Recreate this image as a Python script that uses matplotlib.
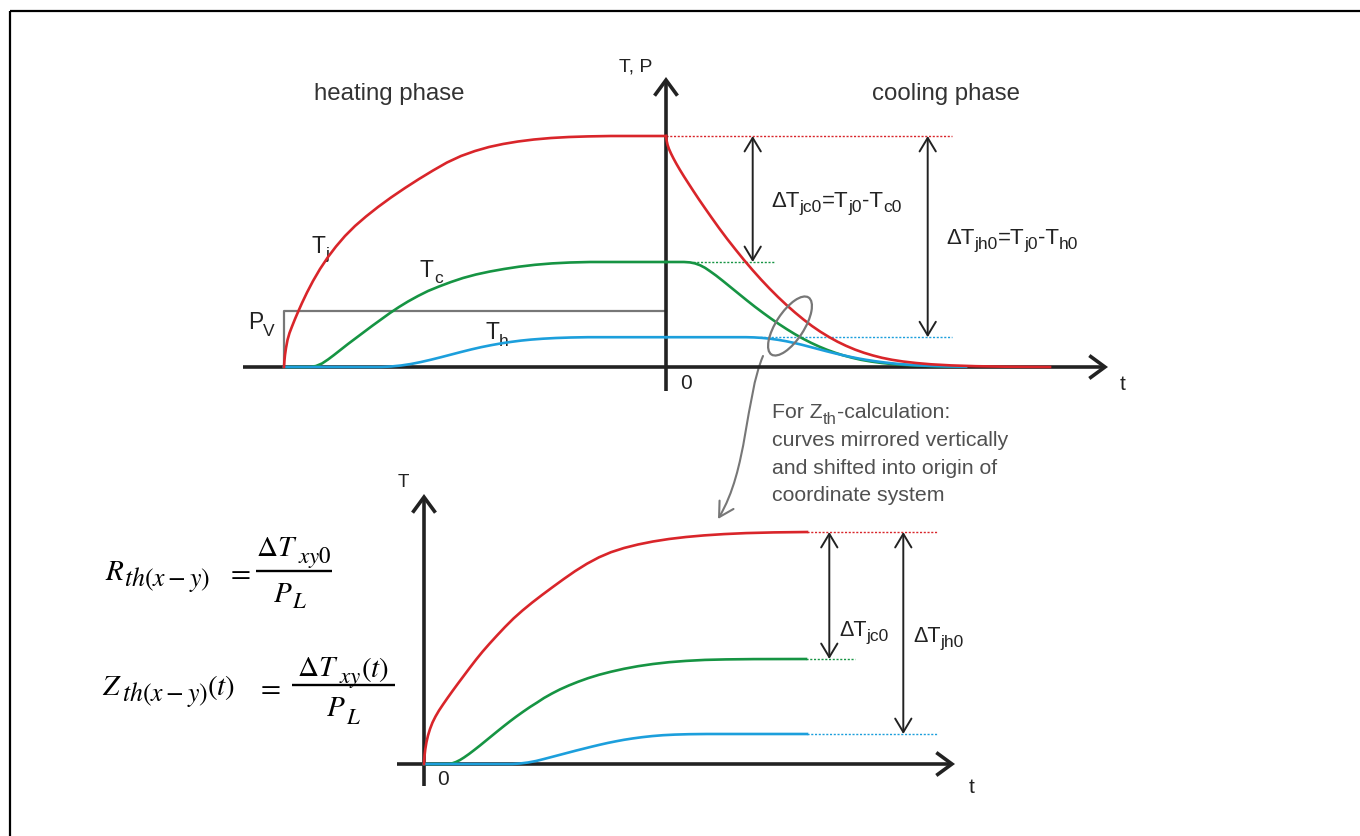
import matplotlib
matplotlib.use("Agg")
import matplotlib.pyplot as plt
from matplotlib.patches import FancyArrowPatch, Ellipse
from matplotlib.path import Path

plt.rcParams['font.family'] = ['Liberation Sans', 'DejaVu Sans']

# ---------------- data (time t, temperature T in chart units) ----------------
# top chart: heating phase (t < 0)
heat_t_j = [-382, -381.6, -381, -380, -378.5, -376.5, -374, -371, -368, -364, -359, -353, -346,
            -338, -330, -321, -311, -300, -288, -275, -261, -247, -233, -219, -205, -191, -177,
            -163, -148, -132, -115, -97, -78, -55, 0]
heat_T_j = [0, 6, 12, 19, 27, 34, 40.5, 48, 55, 64, 74.5, 86, 98,
            110, 120.5, 131, 141, 150.5, 160, 169.5, 179, 188, 196.5, 204.5, 211, 216, 220,
            223, 225.5, 227.5, 229, 230, 230.6, 231, 231]
heat_t_c = [-382, -356, -350, -344, -338, -332, -325, -318, -310, -302, -294, -285, -276, -267,
            -258, -248, -238, -227, -215, -203, -190, -176, -162, -147, -131, -114, -96, -76, 0]
heat_T_c = [0, 0, 1, 3.5, 7.5, 12, 17.5, 23, 29, 35, 41, 47.5, 54, 60,
            65.5, 71, 76, 80.5, 85, 89, 92.5, 95.5, 98, 100.3, 102.2, 103.6, 104.5, 105, 105]
heat_t_h = [-382, -285, -275, -265, -255, -245, -235, -225, -215, -205, -195, -185, -175, -165,
            -155, -145, -135, -123, -110, -95, -78, 0]
heat_T_h = [0, 0, 0.5, 1.5, 3, 5, 7.3, 9.8, 12.4, 15, 17.5, 19.8, 21.8, 23.6,
            25.1, 26.4, 27.4, 28.3, 29, 29.5, 29.8, 29.8]

# top chart: cooling phase (t > 0)
cool_t_j = [0, 0.6, 1.6, 3, 5, 7.5, 10.5, 14, 18, 22.5, 27.5, 33, 39, 45.5, 53, 61, 69.5, 78,
            86.5, 95, 103.5, 112, 120.5, 129, 137.5, 146, 154.5, 163, 171.5, 180, 189, 198, 207,
            216, 226, 237, 250, 265, 285, 310, 340, 384]
cool_T_j = [231, 226.5, 222, 218, 213.5, 208.5, 203, 197, 190.5, 183.5, 175.8, 167.5, 158.8,
            149.5, 139, 128.3, 117.5, 107, 97, 87.5, 78.5, 70, 62, 54.5, 47.5, 41, 35.2, 30,
            25.3, 21.2, 17.4, 14.2, 11.5, 9.2, 7.2, 5.5, 4, 2.7, 1.6, 0.8, 0.3, 0]
cool_t_c = [0, 18, 24, 29, 34, 39, 44, 50, 57, 65, 73, 81, 89, 97, 105, 113, 121, 129, 137, 145,
            153, 161, 169, 177, 186, 195, 205, 216, 228, 242, 258, 278, 300]
cool_T_c = [105, 105, 104.6, 103.6, 101.8, 99.2, 95.8, 91.5, 86, 79.5, 73, 66.5, 60.2, 54.2,
            48.4, 42.9, 37.7, 32.8, 28.3, 24.2, 20.5, 17.2, 14.3, 11.7, 9.3, 7.2, 5.5, 4.0, 2.8,
            1.9, 1.2, 0.6, 0.3]
cool_t_h = [0, 80, 88, 96, 104, 112, 120, 128, 136, 144, 152, 160, 168, 176, 184, 192, 200, 209,
            218, 228, 239, 251, 265, 282, 300]
cool_T_h = [29.8, 29.8, 29.6, 29.1, 28.3, 27.2, 25.8, 24.1, 22.2, 20.1, 18, 15.9, 13.9, 12,
            10.2, 8.6, 7.2, 5.8, 4.6, 3.5, 2.5, 1.7, 1.1, 0.6, 0.3]

P_V = 56            # power step height
P_t0 = -382         # start of power step
Tj0, Tc0, Th0 = 231, 105, 29.8

# bottom chart: mirrored and shifted curves
zt_j = [0, 0.5, 1.3, 2.5, 4, 6, 8.5, 11.5, 15, 19, 23.5, 28.5, 34, 40, 46, 52, 58.5, 65.5, 73,
        81, 89.5, 98.5, 108, 118, 128.5, 139.5, 151, 163, 175, 187, 200, 214, 229, 245, 262,
        280, 300, 322, 350, 383]
zT_j = [0, 8, 15, 22, 28.5, 35, 41.5, 47.5, 53.5, 59.5, 66, 73, 80.5, 88.5, 96.5, 104.3, 112.3,
        120.3, 128.5, 137, 145.5, 153.5, 161.3, 169, 176.8, 184.8, 192.8, 200.3, 206.7, 211.8,
        216, 219.5, 222.5, 225, 227, 228.6, 229.9, 230.9, 231.6, 232]
zt_c = [0, 24, 28, 32, 36, 40, 45, 50, 56, 62, 68, 74, 80, 86, 92, 99, 106, 113, 120, 128, 136,
        145, 154, 164, 175, 187, 200, 214, 229, 245, 262, 281, 302, 330, 382]
zT_c = [0, 0, 0.6, 2, 4, 6.5, 10, 13.8, 18.5, 23.4, 28.3, 33.2, 38, 42.7, 47.2, 52.2, 57, 61.4,
        66, 70.5, 74.6, 78.6, 82.2, 85.8, 89.2, 92.3, 95.2, 97.8, 100, 101.8, 103.1, 104.1,
        104.6, 104.9, 105]
zt_h = [0, 88, 96, 104, 112, 120, 128, 136, 144, 152, 160, 168, 176, 184, 192, 200, 209, 218,
        228, 239, 251, 265, 283, 383]
zT_h = [0, 0, 0.5, 1.5, 3, 5, 7.1, 9.2, 11.3, 13.4, 15.4, 17.4, 19.3, 21.1, 22.7, 24.2, 25.6,
        26.8, 27.9, 28.8, 29.4, 29.8, 30, 30]
zTj0, zTc0, zTh0 = 232, 105, 30

RED = '#d9252a'
GREEN = '#169443'
BLUE = '#1c9fdc'
GRAY = '#777777'
DARK = '#222222'
TXT = '#333333'

# ---------------- figure ----------------
W, H = 1360, 837
fig = plt.figure(figsize=(W / 100, H / 100), dpi=100)
fig.patch.set_facecolor('white')
renderer = fig.canvas.get_renderer()

# overlay axes in pixel coordinates (frame, labels, formulas, connector)
ax0 = fig.add_axes([0, 0, 1, 1])
ax0.set_xlim(0, W)
ax0.set_ylim(H, 0)
ax0.axis('off')
ax0.patch.set_alpha(0)

# top chart axes: origin at pixel (666, 368)
ox1, oy1 = 666, 368
ax1 = fig.add_axes([0, 0, 1, 1])
ax1.set_xlim(-ox1, W - ox1)
ax1.set_ylim(oy1 - H, oy1)
ax1.axis('off')
ax1.patch.set_alpha(0)

# bottom chart axes: origin at pixel (424, 765)
ox2, oy2 = 424, 765
ax2 = fig.add_axes([0, 0, 1, 1])
ax2.set_xlim(-ox2, W - ox2)
ax2.set_ylim(oy2 - H, oy2)
ax2.axis('off')
ax2.patch.set_alpha(0)


def rich(x, y, pieces, size, subsize, drop, color=DARK, **kw):
    """Write text pieces left to right on baseline y (pixels); sub pieces are lowered."""
    cx = x
    for s, sub in pieces:
        t = ax0.text(cx, y + (drop if sub else 0), s, fontsize=subsize if sub else size,
                     ha='left', va='baseline', color=color, zorder=10, **kw)
        cx += t.get_window_extent(renderer).width
    return cx


FM = dict(math_fontfamily='stix', color='black', ha='left', va='baseline', zorder=10)


def mseq(x, y, pieces, center=None):
    """Math pieces (text, fontsize, dy, gap) placed left to right; optional centring on x=center."""
    items = []
    cx = x
    for s, fs, dy, gap in pieces:
        cx += gap
        t = ax0.text(cx, y + dy, s, fontsize=fs, **FM)
        w = t.get_window_extent(renderer).width
        items.append((t, cx, dy))
        cx += w
    if center is not None:
        shift = center - (x + cx) / 2
        for t, px, dy in items:
            t.set_position((px + shift, y + dy))
        cx += shift
    return cx


# frame (top and left edges)
ax0.plot([10, W], [12, 12], color='black', lw=1.6, solid_capstyle='butt')
ax0.plot([10, 10], [12, H], color='black', lw=1.6, solid_capstyle='butt')

AX_LW = 2.6
CURVE_LW = 1.9


def axis_arrow(ax, p0, p1):
    ax.add_patch(FancyArrowPatch(p0, p1, arrowstyle='->,head_length=0.75,head_width=0.55',
                                 mutation_scale=15, lw=AX_LW, color=DARK, shrinkA=0, shrinkB=0,
                                 capstyle='butt', joinstyle='miter', zorder=5))


def dbl_arrow(ax, x, y0, y1):
    ax.add_patch(FancyArrowPatch((x, y0), (x, y1), arrowstyle='<->,head_length=0.75,head_width=0.45',
                                 mutation_scale=13, lw=1.4, color=DARK, shrinkA=0, shrinkB=0,
                                 zorder=6))


DOT = dict(lw=1.0, ls=(0, (1.5, 1.2)), zorder=4)

# ---------------- top chart ----------------
axis_arrow(ax1, (-423, 0), (442, 0))
axis_arrow(ax1, (0, -24), (0, 290))

# power step
ax1.plot([P_t0, P_t0, 0], [0, P_V, P_V], color=GRAY, lw=1.6, zorder=3)

ax1.plot(heat_t_c, heat_T_c, color=GREEN, lw=CURVE_LW, zorder=6)
ax1.plot(cool_t_c, cool_T_c, color=GREEN, lw=CURVE_LW, zorder=6)
ax1.plot(heat_t_h, heat_T_h, color=BLUE, lw=CURVE_LW, zorder=7)
ax1.plot(cool_t_h, cool_T_h, color=BLUE, lw=CURVE_LW, zorder=7)
ax1.plot(heat_t_j, heat_T_j, color=RED, lw=CURVE_LW, zorder=8)
ax1.plot(cool_t_j, cool_T_j, color=RED, lw=CURVE_LW, zorder=8)

# dotted reference lines
ax1.plot([0, 286], [Tj0, Tj0], color=RED, **DOT)
ax1.plot([27, 109], [Tc0, Tc0], color=GREEN, **DOT)
ax1.plot([94, 286], [Th0, Th0], color=BLUE, **DOT)

dbl_arrow(ax1, 86.7, Tj0, Tc0)
dbl_arrow(ax1, 261.7, Tj0, Th0)

# ellipse marking the curves
ax1.add_patch(Ellipse((124, 41), width=68, height=28, angle=57, fill=False, ec=GRAY, lw=1.6,
                      zorder=9))

ax1.text(-14, 301, 'T, P', color=DARK, fontsize=14, ha='right', va='center')
ax1.text(20, -16, '0', color=DARK, fontsize=15, ha='center', va='center')
ax1.text(457, -17, 't', color=DARK, fontsize=15, ha='center', va='center')
ax1.text(-277, 274, 'heating phase', color=TXT, fontsize=17.3, ha='center', va='center')
ax1.text(280, 274, 'cooling phase', color=TXT, fontsize=17.3, ha='center', va='center')

# labels (pixel positions of baselines)
rich(771, 207, [('\u0394T', 0), ('jc0', 1), ('=T', 0), ('j0', 1), ('-T', 0), ('c0', 1)],
     16, 12.5, 5)
rich(946, 243.5, [('\u0394T', 0), ('jh0', 1), ('=T', 0), ('j0', 1), ('-T', 0), ('h0', 1)],
     16, 12.5, 5)
rich(311.5, 253, [('T', 0), ('j', 1)], 16.5, 12.5, 6)
rich(420, 277, [('T', 0), ('c', 1)], 16.5, 12.5, 6)
rich(485, 338.5, [('T', 0), ('h', 1)], 16.5, 12.5, 7)
rich(248, 329, [('P', 0), ('V', 1)], 16.5, 12.5, 7)

# ---------------- connector & note ----------------
verts = [(763, 357), (745, 400), (748, 470), (718, 520)]
codes = [Path.MOVETO, Path.CURVE4, Path.CURVE4, Path.CURVE4]
ax0.add_patch(FancyArrowPatch(path=Path(verts, codes),
                              arrowstyle='->,head_length=0.8,head_width=0.45',
                              mutation_scale=13, lw=1.5, color=GRAY, zorder=9))

NOTE = '#505050'
rich(772, 418.5, [('For Z', 0), ('th', 1), ('-calculation:', 0)], 15.3, 12, 6, color=NOTE)
rich(772, 446, [('curves mirrored vertically', 0)], 15.3, 12, 0, color=NOTE)
rich(772, 473.5, [('and shifted into origin of', 0)], 15.3, 12, 0, color=NOTE)
rich(772, 501, [('coordinate system', 0)], 15.3, 12, 0, color=NOTE)

# ---------------- bottom chart ----------------
axis_arrow(ax2, (-27, 0), (531, 0))
axis_arrow(ax2, (0, -22), (0, 270))

ax2.plot(zt_c, zT_c, color=GREEN, lw=CURVE_LW, zorder=6)
ax2.plot(zt_h, zT_h, color=BLUE, lw=CURVE_LW, zorder=7)
ax2.plot(zt_j, zT_j, color=RED, lw=CURVE_LW, zorder=8)

ax2.plot([383, 514], [zTj0, zTj0], color=RED, **DOT)
ax2.plot([382, 431], [zTc0, zTc0], color=GREEN, **DOT)
ax2.plot([383, 514], [zTh0, zTh0], color=BLUE, **DOT)

dbl_arrow(ax2, 405.3, zTj0, zTc0)
dbl_arrow(ax2, 479.3, zTj0, zTh0)

rich(839, 636, [('\u0394T', 0), ('jc0', 1)], 15.5, 12.5, 5)
rich(913, 642.5, [('\u0394T', 0), ('jh0', 1)], 15.5, 12.5, 5)

ax2.text(-21, 282, 'T', color=DARK, fontsize=13.5, ha='center', va='center')
ax2.text(19, -15, '0', color=DARK, fontsize=15, ha='center', va='center')
ax2.text(548, -23, 't', color=DARK, fontsize=15, ha='center', va='center')

# ---------------- formulas ----------------
BIG, SUB, LSUB = 21, 16.5, 18.5
# R_th(x-y) = dT_xy0 / P_L
mseq(105, 580, [(r'$R$', BIG, 0, 0), (r'$th(x-y)$', LSUB, 6, 0)])
mseq(226, 580, [(r'$=$', BIG, 0, 0)])
ax0.plot([255.7, 332.3], [571.7, 571.7], color='black', lw=1.7, solid_capstyle='butt')
mseq(257, 556.5, [(r'$\Delta T$', BIG, 0, 0), (r'$xy0$', SUB, 6, 0)], center=294)
mseq(270, 601.5, [(r'$P$', BIG, 0, 0), (r'$L$', SUB, 7, 0)], center=290)
# Z_th(x-y)(t) = dT_xy(t) / P_L
mseq(101.7, 695, [(r'$Z$', BIG, 0, 0), (r'$th(x-y)$', LSUB, 6, 0), (r'$(t)$', BIG, 0, 0)])
mseq(256, 695, [(r'$=$', BIG, 0, 0)])
ax0.plot([291.7, 395], [685.7, 685.7], color='black', lw=1.7, solid_capstyle='butt')
mseq(293, 676.5, [(r'$\Delta T$', BIG, 0, 0), (r'$xy$', SUB, 6, 0), (r'$(t)$', BIG, 0, 0)],
     center=343.3)
mseq(326, 716.5, [(r'$P$', BIG, 0, 0), (r'$L$', SUB, 7, 0)], center=343.3)

fig.savefig('out.png', dpi=100, facecolor='white')
